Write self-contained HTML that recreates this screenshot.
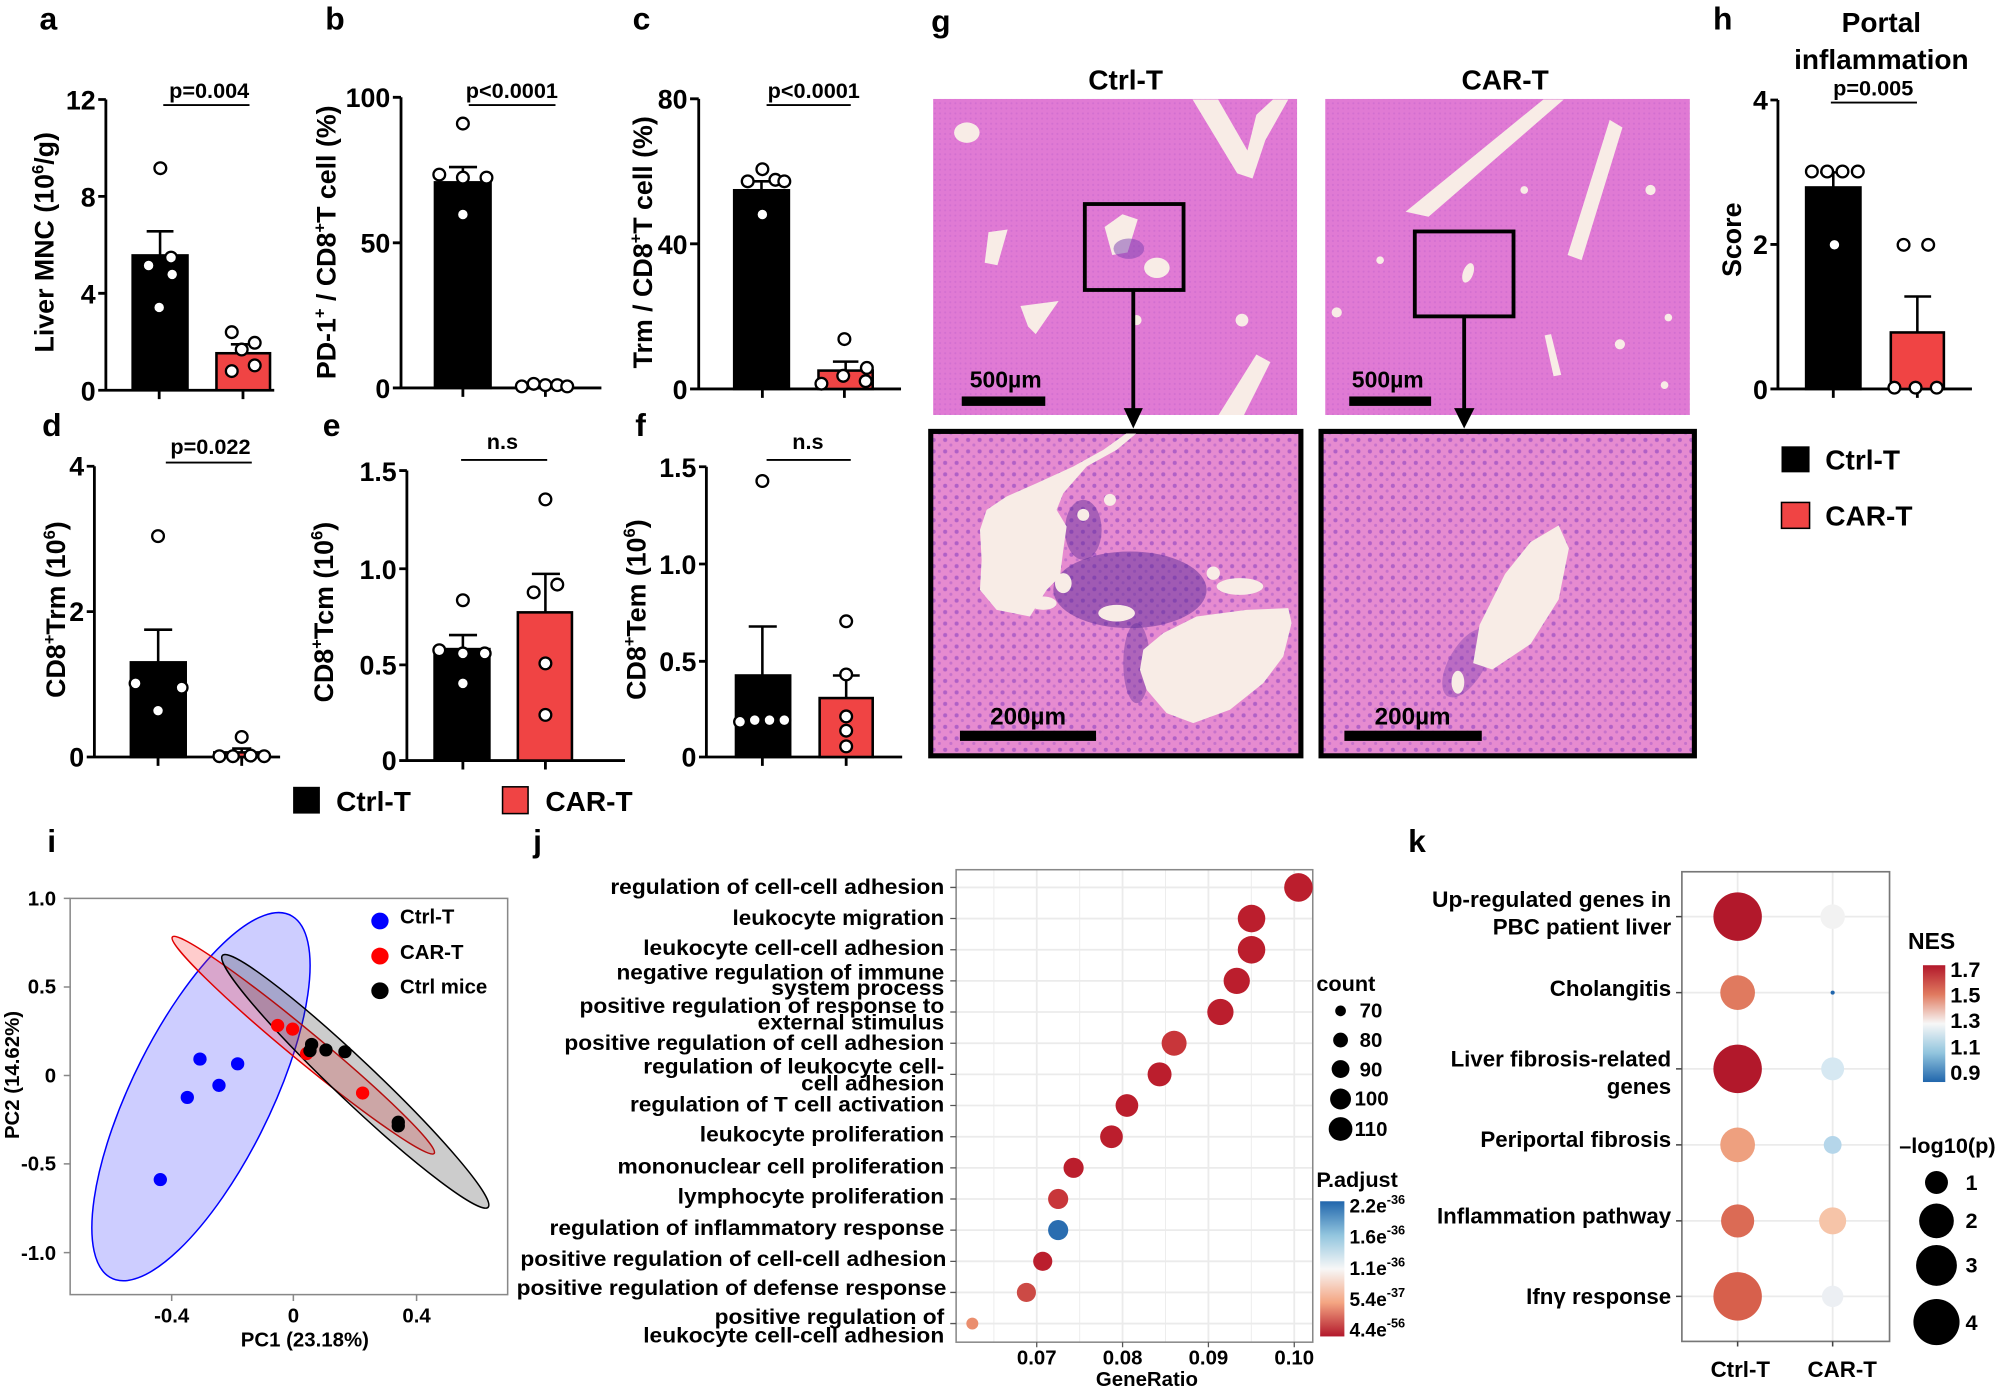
<!DOCTYPE html>
<html><head><meta charset="utf-8"><style>
html,body{margin:0;padding:0;background:#fff}
svg{display:block}
text{font-family:"Liberation Sans",Arial,sans-serif;font-weight:bold;fill:#000}
.n{font-family:"Liberation Sans Narrow","Liberation Sans",sans-serif;font-weight:bold}
</style></head><body>
<svg width="2000" height="1390" viewBox="0 0 1568 1090" preserveAspectRatio="none" xmlns="http://www.w3.org/2000/svg">
<defs>
<pattern id="nuc" width="9" height="9" patternUnits="userSpaceOnUse"><rect width="9" height="9" fill="#e68bd0"/><circle cx="3" cy="3" r="1.6" fill="#9a4ec2" opacity=".7"/><circle cx="7.5" cy="7" r="1.2" fill="#a65ac6" opacity=".5"/></pattern>
<pattern id="tis" width="4" height="4" patternUnits="userSpaceOnUse"><rect width="4" height="4" fill="#e07ad4"/><circle cx="1" cy="1" r=".8" fill="#c463cc" opacity=".5"/></pattern>
<linearGradient id="padj" x1="0" y1="0" x2="0" y2="1"><stop offset="0" stop-color="#2166ac"/><stop offset=".25" stop-color="#92c5de"/><stop offset=".5" stop-color="#f7f7f7"/><stop offset=".75" stop-color="#f4a582"/><stop offset="1" stop-color="#b2182b"/></linearGradient>
<linearGradient id="nes" x1="0" y1="0" x2="0" y2="1"><stop offset="0" stop-color="#b2182b"/><stop offset=".25" stop-color="#e07a5f"/><stop offset=".5" stop-color="#f7f7f7"/><stop offset=".75" stop-color="#92c5de"/><stop offset="1" stop-color="#2166ac"/></linearGradient>
<clipPath id="c1"><rect x="731" y="340" width="287" height="251"/></clipPath>
<clipPath id="c2"><rect x="1039" y="340" width="288" height="251"/></clipPath>
<clipPath id="c3"><rect x="731.6" y="77.6" width="285.3" height="247.8"/></clipPath>
<clipPath id="c4"><rect x="1039" y="77.6" width="285.8" height="247.8"/></clipPath>
</defs>

<g font-size="25"><text x="31" y="23">a</text><text x="255" y="23">b</text><text x="496" y="23">c</text><text x="33" y="342">d</text><text x="253" y="342">e</text><text x="498" y="342">f</text><text x="730" y="25">g</text><text x="1343" y="23">h</text><text x="37" y="668">i</text><text x="418" y="668">j</text><text x="1104" y="668">k</text></g>

<g stroke="#000" stroke-width="2.2" fill="none">
<path d="M83 78V306H215M77 78H83M77 154H83M77 230H83M77 306H83M124.8 306v7M190.5 306v7"/>
<path d="M314.4 76.3V304.2H471.5M308 76.3h6.4M308 190.4h6.4M308 304.2h6.4M362.9 304.2v7M427.6 304.2v7"/>
<path d="M547.8 77.5V305H706.4M541 77.5h6.8M541 191.2h6.8M541 305h6.8M597.7 305v7M662 305v7"/>
<path d="M74 365.6V593.6H219.6M68 365.6h6M68 479.6h6M68 593.6h6M123.9 593.6v7M189.5 593.6v7"/>
<path d="M319 369V596.4H490M313 369h6M313 446h6M313 521.4h6M313 596.4h6M362.9 596.4v7M427.6 596.4v7"/>
<path d="M553.8 366V593.6H707.3M548 366h5.8M548 442.3h5.8M548 518.6h5.8M548 593.6h5.8M597.7 593.6v7M663.4 593.6v7"/>
<path d="M1393.9 78.4V305H1546M1388 78.4h6M1388 191.7h6M1388 305h6M1437.3 305v7M1503.2 305v7"/>
</g>

<g font-size="21" text-anchor="end">
<text x="75" y="86">12</text><text x="75" y="162">8</text><text x="75" y="238">4</text><text x="75" y="314">0</text>
<text x="306" y="84">100</text><text x="306" y="198">50</text><text x="306" y="312">0</text>
<text x="539" y="85">80</text><text x="539" y="199">40</text><text x="539" y="313">0</text>
<text x="66" y="373">4</text><text x="66" y="487">2</text><text x="66" y="601">0</text>
<text x="311" y="377">1.5</text><text x="311" y="454">1.0</text><text x="311" y="529">0.5</text><text x="311" y="604">0</text>
<text x="546" y="374">1.5</text><text x="546" y="450">1.0</text><text x="546" y="526">0.5</text><text x="546" y="601">0</text>
<text x="1386" y="86">4</text><text x="1386" y="199">2</text><text x="1386" y="313">0</text>
</g>

<g stroke="#000" stroke-width="2">
<rect x="104" y="200.3" width="43" height="105.6" fill="#000"/><path d="M125.5 200V181.4M115 181.4h21"/>
<rect x="169.7" y="277" width="42" height="29" fill="#f04444"/><path d="M190.7 277v-7M181 270h20"/>
<rect x="341" y="143" width="43.6" height="161.2" fill="#000"/><path d="M362.9 143V131M352 131h22"/>
<rect x="406" y="302.4" width="43" height="1.8" fill="#f04444"/>
<rect x="575.6" y="149.2" width="42.9" height="155.8" fill="#000"/><path d="M597 149.2v-7M587 142.2h21"/>
<rect x="641.7" y="290.6" width="42.5" height="14.4" fill="#f04444"/><path d="M663 290.6v-7M653 283.6h20"/>
<rect x="102.6" y="519.4" width="43" height="74.2" fill="#000"/><path d="M124 519.4V493.8M113 493.8h22"/>
<rect x="168" y="590" width="42" height="3.6" fill="#f04444"/><path d="M189.5 590v-3M182 587h15"/>
<rect x="340.7" y="509" width="43" height="87.4" fill="#000"/><path d="M362.9 509v-11M352 498h22"/>
<rect x="406" y="480.2" width="42.4" height="116.2" fill="#f04444"/><path d="M427.6 480.2V450M417 450h22"/>
<rect x="577" y="529.7" width="42.5" height="63.9" fill="#000"/><path d="M597.7 529.7V491.3M587 491.3h22"/>
<rect x="642.6" y="547.4" width="41.6" height="46.2" fill="#f04444"/><path d="M663.4 547.4V529.7M653 529.7h21"/>
<rect x="1416" y="147" width="42.6" height="158" fill="#000"/><path d="M1437.3 147v-11.8M1427 135.2h21"/>
<rect x="1482.4" y="260.7" width="41.6" height="44.3" fill="#f04444"/><path d="M1503.2 260.7V232.5M1493 232.5h21"/>
</g>
<g fill="#fff" stroke="#000" stroke-width="1.8">
<circle cx="125.7" cy="131.9" r="4.6"/><circle cx="116.5" cy="208.2" r="4.6"/><circle cx="134.1" cy="202" r="4.6"/><circle cx="135" cy="215.2" r="4.6"/><circle cx="124.8" cy="241.1" r="4.6"/>
<circle cx="181.7" cy="260.5" r="4.6"/><circle cx="199.7" cy="268.8" r="4.6"/><circle cx="189.5" cy="274.1" r="4.6"/><circle cx="181.7" cy="291" r="4.6"/><circle cx="199.7" cy="286.5" r="4.6"/>
<circle cx="362.9" cy="96.9" r="4.6"/><circle cx="344.4" cy="136.9" r="4.6"/><circle cx="362.9" cy="139.3" r="4.6"/><circle cx="381.4" cy="139.3" r="4.6"/><circle cx="362.9" cy="168.2" r="4.6"/>
<circle cx="409.1" cy="303" r="4.6"/><circle cx="418.4" cy="301" r="4.6"/><circle cx="427.6" cy="302" r="4.6"/><circle cx="436.9" cy="302" r="4.6"/><circle cx="444.7" cy="303" r="4.6"/>
<circle cx="597.7" cy="132.7" r="4.6"/><circle cx="607.9" cy="141" r="4.6"/><circle cx="586.2" cy="142.2" r="4.6"/><circle cx="614.9" cy="142.2" r="4.6"/><circle cx="597.7" cy="168.2" r="4.6"/>
<circle cx="662" cy="265.9" r="4.6"/><circle cx="644" cy="300.9" r="4.6"/><circle cx="661.1" cy="294.7" r="4.6"/><circle cx="678.7" cy="298.9" r="4.6"/><circle cx="679.6" cy="288.5" r="4.6"/>
<circle cx="123.9" cy="420.4" r="4.6"/><circle cx="106.3" cy="535.9" r="4.6"/><circle cx="142.4" cy="539.2" r="4.6"/><circle cx="123.9" cy="557.3" r="4.6"/>
<circle cx="189.5" cy="577.9" r="4.6"/><circle cx="172" cy="593" r="4.6"/><circle cx="182.6" cy="593" r="4.6"/><circle cx="196.5" cy="592.5" r="4.6"/><circle cx="207.1" cy="593" r="4.6"/>
<circle cx="362.9" cy="470.7" r="4.6"/><circle cx="344.4" cy="509.9" r="4.6"/><circle cx="362.9" cy="512.4" r="4.6"/><circle cx="380" cy="512.4" r="4.6"/><circle cx="362.9" cy="535.9" r="4.6"/>
<circle cx="427.6" cy="391.6" r="4.6"/><circle cx="418.4" cy="464.5" r="4.6"/><circle cx="436.9" cy="458.4" r="4.6"/><circle cx="427.6" cy="520.2" r="4.6"/><circle cx="427.6" cy="560.6" r="4.6"/>
<circle cx="597.7" cy="377.2" r="4.6"/><circle cx="580.2" cy="566" r="4.6"/><circle cx="591.7" cy="564.7" r="4.6"/><circle cx="603.3" cy="564.7" r="4.6"/><circle cx="614.9" cy="564.7" r="4.6"/>
<circle cx="663.4" cy="487.2" r="4.6"/><circle cx="663.4" cy="528.9" r="4.6"/><circle cx="663.4" cy="561.8" r="4.6"/><circle cx="663.4" cy="573" r="4.6"/><circle cx="663.4" cy="585.3" r="4.6"/>
<circle cx="1420.5" cy="134.5" r="4.6"/><circle cx="1432.5" cy="134.5" r="4.6"/><circle cx="1444.5" cy="134.5" r="4.6"/><circle cx="1456.5" cy="134.5" r="4.6"/><circle cx="1438.2" cy="192" r="4.6"/>
<circle cx="1492.4" cy="192" r="4.6"/><circle cx="1511.7" cy="192" r="4.6"/><circle cx="1485.2" cy="304" r="4.6"/><circle cx="1501.8" cy="304" r="4.6"/><circle cx="1518.4" cy="304" r="4.6"/>
</g>
<g stroke="#000" stroke-width="1.5"><path d="M128 82.4H195.6M367.5 82.4H435.5M601 82.4H667M130 362.7H197.4M361.5 360.7H429M601 360.7H667M1435.4 80.4H1502.9"/></g>
<g font-size="17" text-anchor="middle">
<text x="164" y="77">p=0.004</text><text x="401.3" y="77">p&lt;0.0001</text><text x="638" y="77">p&lt;0.0001</text>
<text x="165" y="356">p=0.022</text><text x="393.9" y="352">n.s</text><text x="633.4" y="352">n.s</text>
<text x="1468.6" y="75">p=0.005</text>
</g>
<g font-size="21" text-anchor="middle">
<text transform="translate(42,190) rotate(-90)">Liver MNC (10<tspan font-size="13" dy="-8">6</tspan><tspan dy="8">/g)</tspan></text>
<text transform="translate(263,190) rotate(-90)">PD-1<tspan font-size="13" dy="-8">+</tspan><tspan dy="8"> / CD8</tspan><tspan font-size="13" dy="-8">+</tspan><tspan dy="8">T cell (%)</tspan></text>
<text transform="translate(511,190) rotate(-90)">Trm / CD8<tspan font-size="13" dy="-8">+</tspan><tspan dy="8">T cell (%)</tspan></text>
<text transform="translate(51,478) rotate(-90)">CD8<tspan font-size="13" dy="-8">+</tspan><tspan dy="8">Trm (10</tspan><tspan font-size="13" dy="-8">6</tspan><tspan dy="8">)</tspan></text>
<text transform="translate(261,480) rotate(-90)">CD8<tspan font-size="13" dy="-8">+</tspan><tspan dy="8">Tcm (10</tspan><tspan font-size="13" dy="-8">6</tspan><tspan dy="8">)</tspan></text>
<text transform="translate(506,478) rotate(-90)">CD8<tspan font-size="13" dy="-8">+</tspan><tspan dy="8">Tem (10</tspan><tspan font-size="13" dy="-8">6</tspan><tspan dy="8">)</tspan></text>
<text transform="translate(1365,188) rotate(-90)">Score</text>
</g>
<rect x="229.8" y="617" width="21" height="21" fill="#000"/><text x="263.5" y="636" font-size="22">Ctrl-T</text>
<rect x="394" y="617" width="20" height="21" fill="#f04444" stroke="#000" stroke-width="1.2"/><text x="427.6" y="636" font-size="22">CAR-T</text>
<rect x="1396.7" y="350" width="22" height="20.4" fill="#000"/><text x="1431" y="368" font-size="22">Ctrl-T</text>
<rect x="1396.7" y="394" width="22" height="20.3" fill="#f04444" stroke="#000" stroke-width="1.2"/><text x="1431" y="412" font-size="22">CAR-T</text>
<g font-size="22" text-anchor="middle"><text x="1475" y="25">Portal</text><text x="1475" y="54">inflammation</text></g>

<g font-size="22" text-anchor="middle"><text x="882.5" y="70">Ctrl-T</text><text x="1180" y="70">CAR-T</text></g>
<rect x="731.6" y="77.6" width="285.3" height="247.8" fill="url(#tis)"/>
<g clip-path="url(#c3)" fill="#f8ece6">
<ellipse cx="758" cy="104" rx="10" ry="8"/>
<polygon points="935,78 955,78 978,118 985,90 998,78 1010,78 992,110 982,140 970,136"/>
<polygon points="866,178 880,168 892,172 884,198 872,200"/><ellipse cx="907" cy="210" rx="10" ry="8"/>
<polygon points="775,182 790,180 782,208 772,206"/>
<polygon points="800,240 830,236 812,262 806,256"/>
<polygon points="985,278 996,284 975,326 955,326"/>
<circle cx="973.7" cy="251" r="5"/><circle cx="891" cy="251" r="4"/>
</g>
<g fill="#7a3fb0" opacity=".5"><ellipse cx="885" cy="195" rx="12" ry="8"/></g>
<rect x="1039" y="77.6" width="285.8" height="247.8" fill="url(#tis)"/>
<g clip-path="url(#c4)" fill="#f8ece6">
<polygon points="1210,78 1226,78 1120,170 1102,166"/>
<polygon points="1262,94 1272,100 1240,204 1229,200"/>
<ellipse cx="1151" cy="214" rx="4" ry="8" transform="rotate(20 1151 214)"/>
<polygon points="1211,263 1216,262 1224,294 1218,295"/>
<circle cx="1294" cy="149" r="4"/><circle cx="1195" cy="149" r="3"/><circle cx="1270" cy="270" r="4"/><circle cx="1308" cy="249" r="3"/><circle cx="1048" cy="245" r="4"/><circle cx="1082" cy="204" r="3"/><circle cx="1305" cy="302" r="3"/>
</g>
<g fill="none" stroke="#000" stroke-width="3"><rect x="850.5" y="160" width="77.4" height="67.4"/><rect x="1109.2" y="181.5" width="77.4" height="66.6"/></g>
<g stroke="#000" stroke-width="3"><path d="M888.5 227.4V322M1147.9 248.1V322"/></g>
<polygon points="881,320 896,320 888.5,336" fill="#000"/><polygon points="1140,320 1156,320 1147.9,336" fill="#000"/>
<rect x="754" y="310.9" width="65.5" height="7.4" fill="#000"/><rect x="1057.8" y="310.9" width="64.2" height="7.4" fill="#000"/>
<g font-size="18" text-anchor="middle"><text x="788.5" y="304">500µm</text><text x="1088" y="304">500µm</text></g>

<rect x="729.7" y="338.3" width="290.2" height="254.4" fill="url(#nuc)" stroke="#000" stroke-width="4"/>
<g clip-path="url(#c1)"><g transform="translate(729.1,337.1) scale(0.2613)">
<ellipse cx="600" cy="480" rx="230" ry="115" fill="#5a2a98" opacity=".5"/>
<ellipse cx="620" cy="700" rx="40" ry="120" fill="#5a2a98" opacity=".4"/>
<ellipse cx="460" cy="300" rx="55" ry="90" fill="#5a2a98" opacity=".45"/>
<g fill="#f8ece6">
<polygon points="620,10 560,60 470,110 400,190 380,240 410,290 400,360 390,440 350,480 300,560 200,540 150,480 155,390 150,300 170,240 230,200 320,160 430,110 520,60 590,10"/>
<polygon points="640,660 700,610 800,560 950,540 1075,535 1085,580 1060,680 1000,760 900,840 790,880 710,850 650,780 630,720"/>
<ellipse cx="560" cy="550" rx="55" ry="25"/><ellipse cx="930" cy="470" rx="70" ry="25"/><circle cx="850" cy="430" r="20"/><circle cx="460" cy="255" r="18"/><circle cx="540" cy="210" r="18"/><ellipse cx="400" cy="460" rx="25" ry="30"/><ellipse cx="340" cy="520" rx="40" ry="20"/>
</g></g></g>
<rect x="752.6" y="573" width="106.7" height="8" fill="#000"/><text x="806" y="568" font-size="19" text-anchor="middle">200µm</text>

<rect x="1035.7" y="338.3" width="292.7" height="254.4" fill="url(#nuc)" stroke="#000" stroke-width="4"/>
<g clip-path="url(#c2)">
<ellipse cx="1150" cy="520" rx="14" ry="30" fill="#7a3fb0" opacity=".4" transform="rotate(30 1150 520)"/>
<polygon points="1222,412 1230,430 1222,470 1200,505 1170,525 1155,520 1160,490 1180,450 1200,425" fill="#f8ece6"/>
<ellipse cx="1143" cy="535" rx="5" ry="9" fill="#f8ece6"/>
</g>
<rect x="1054" y="573" width="107.7" height="8" fill="#000"/><text x="1107.5" y="568" font-size="19" text-anchor="middle">200µm</text>

<rect x="55" y="704.5" width="343" height="310.7" fill="#fff" stroke="#888" stroke-width="1.2"/>
<g transform="translate(0,642.9) scale(0.2613,0.2864)">
<ellipse cx="603" cy="758" rx="565" ry="205" transform="rotate(-61 603 758)" fill="#6666ff" fill-opacity=".33" stroke="#0000ff" stroke-width="1.5" vector-effect="non-scaling-stroke"/>
<ellipse cx="910" cy="617" rx="492" ry="42" transform="rotate(37 910 617)" fill="#ff3333" fill-opacity=".25" stroke="#e00000" stroke-width="1.5" vector-effect="non-scaling-stroke"/>
<ellipse cx="1066" cy="716" rx="527" ry="58" transform="rotate(40.8 1066 716)" fill="#333" fill-opacity=".25" stroke="#000" stroke-width="1.5" vector-effect="non-scaling-stroke"/>
<g fill="#0000ff"><ellipse cx="600" cy="655" rx="20" ry="18"/><ellipse cx="713" cy="668" rx="20" ry="18"/><ellipse cx="657" cy="727" rx="20" ry="18"/><ellipse cx="562" cy="760" rx="20" ry="18"/><ellipse cx="481" cy="985" rx="20" ry="18"/></g>
<g fill="#ff0000"><ellipse cx="833" cy="563" rx="20" ry="18"/><ellipse cx="878" cy="573" rx="20" ry="18"/><ellipse cx="920" cy="640" rx="20" ry="18"/><ellipse cx="1088" cy="748" rx="20" ry="18"/></g>
<g fill="#000"><ellipse cx="935" cy="615" rx="20" ry="18"/><ellipse cx="930" cy="632" rx="20" ry="18"/><ellipse cx="978" cy="630" rx="20" ry="18"/><ellipse cx="1035" cy="635" rx="20" ry="18"/><ellipse cx="1195" cy="828" rx="20" ry="18"/><ellipse cx="1195" cy="838" rx="20" ry="18"/></g>
<ellipse cx="1140" cy="277" rx="26" ry="23" fill="#0000ff"/><ellipse cx="1140" cy="373" rx="26" ry="23" fill="#ff0000"/><ellipse cx="1140" cy="468" rx="26" ry="23" fill="#000"/>
</g>
<g font-size="16"><text x="313.6" y="724">Ctrl-T</text><text x="313.6" y="752">CAR-T</text><text x="313.6" y="779">Ctrl mice</text></g>
<g stroke="#888" stroke-width="1.2"><path d="M50 704.5h5M50 774h5M50 843.4h5M50 912.7h5M50 982.3h5M134.6 1015.2v5M230 1015.2v5M326.6 1015.2v5"/></g>
<g font-size="16" text-anchor="end"><text x="44" y="710">1.0</text><text x="44" y="779">0.5</text><text x="44" y="849">0</text><text x="44" y="918">-0.5</text><text x="44" y="988">-1.0</text></g>
<g font-size="16" text-anchor="middle"><text x="134.6" y="1037">-0.4</text><text x="230" y="1037">0</text><text x="326.6" y="1037">0.4</text><text x="239" y="1056">PC1 (23.18%)</text>
<text transform="translate(15,843) rotate(-90)">PC2 (14.62%)</text></g>

<rect x="749.6" y="682" width="279.6" height="370.5" fill="#fff"/>
<g stroke="#ebebeb" stroke-width="0.7"><path d="M779.2 682V1052.5M846.5 682V1052.5M913.8 682V1052.5M981 682V1052.5"/></g>
<g stroke="#ebebeb" stroke-width="1.4"><path d="M812.8 682V1052.5M880.1 682V1052.5M947.4 682V1052.5M1014.7 682V1052.5
M749.6 695.9H1029.2M749.6 720.3H1029.2M749.6 744.8H1029.2M749.6 769.2H1029.2M749.6 793.6H1029.2M749.6 818.1H1029.2M749.6 842.5H1029.2M749.6 866.9H1029.2M749.6 891.4H1029.2M749.6 915.8H1029.2M749.6 940.2H1029.2M749.6 964.6H1029.2M749.6 989.1H1029.2M749.6 1013.5H1029.2M749.6 1037.9H1029.2"/></g>
<rect x="749.6" y="682" width="279.6" height="370.5" fill="none" stroke="#888" stroke-width="1.2"/>
<g stroke="#555" stroke-width="1"><path d="M745 695.9h4.6M745 720.3h4.6M745 744.8h4.6M745 769.2h4.6M745 793.6h4.6M745 818.1h4.6M745 842.5h4.6M745 866.9h4.6M745 891.4h4.6M745 915.8h4.6M745 940.2h4.6M745 964.6h4.6M745 989.1h4.6M745 1013.5h4.6M745 1037.9h4.6M812.8 1052.5v4M880.1 1052.5v4M947.4 1052.5v4M1014.7 1052.5v4"/></g>
<g fill="#bb1e2d">
<circle cx="1018" cy="695.9" r="11.2"/><circle cx="981.2" cy="720.3" r="10.8"/><circle cx="981.2" cy="744.8" r="10.8"/><circle cx="969.6" cy="769.2" r="10.3"/><circle cx="956.8" cy="793.6" r="10.3"/>
<circle cx="920.5" cy="818.1" r="9.8" fill="#c8363a"/><circle cx="909.1" cy="842.5" r="9.4"/><circle cx="883.5" cy="866.9" r="8.9"/><circle cx="871.4" cy="891.4" r="8.9"/><circle cx="841.7" cy="915.8" r="7.9"/>
<circle cx="829.6" cy="940.2" r="7.9" fill="#c8363a"/><circle cx="829.6" cy="964.6" r="7.9" fill="#2a6db0"/><circle cx="817.5" cy="989.1" r="7.5"/><circle cx="804.7" cy="1013.5" r="7.5" fill="#cc4a45"/><circle cx="762.3" cy="1037.9" r="4.7" fill="#ea8e6e"/>
</g>
<g class="n" font-size="16.5" text-anchor="end" dominant-baseline="central">
<text class="n" x="740.3" y="695.9" textLength="261.8" lengthAdjust="spacingAndGlyphs">regulation of cell-cell adhesion</text>
<text class="n" x="740.3" y="720.3" textLength="166" lengthAdjust="spacingAndGlyphs">leukocyte migration</text>
<text class="n" x="740.3" y="743.7" textLength="236" lengthAdjust="spacingAndGlyphs">leukocyte cell-cell adhesion</text>
<text class="n" x="740.3" y="763.1" textLength="257" lengthAdjust="spacingAndGlyphs">negative regulation of immune</text>
<text class="n" x="740.3" y="775.2" textLength="135.6" lengthAdjust="spacingAndGlyphs">system process</text>
<text class="n" x="740.3" y="789.3" textLength="286" lengthAdjust="spacingAndGlyphs">positive regulation of response to</text>
<text class="n" x="740.3" y="802.3" textLength="146.3" lengthAdjust="spacingAndGlyphs">external stimulus</text>
<text class="n" x="740.3" y="818.1" textLength="297.8" lengthAdjust="spacingAndGlyphs">positive regulation of cell adhesion</text>
<text class="n" x="740.3" y="836.9" textLength="236" lengthAdjust="spacingAndGlyphs">regulation of leukocyte cell-</text>
<text class="n" x="740.3" y="849.9" textLength="112.2" lengthAdjust="spacingAndGlyphs">cell adhesion</text>
<text class="n" x="740.3" y="866.5" textLength="246.4" lengthAdjust="spacingAndGlyphs">regulation of T cell activation</text>
<text class="n" x="740.3" y="890.2" textLength="191.7" lengthAdjust="spacingAndGlyphs">leukocyte proliferation</text>
<text class="n" x="740.3" y="915.1" textLength="256.2" lengthAdjust="spacingAndGlyphs">mononuclear cell proliferation</text>
<text class="n" x="740.3" y="938.6" textLength="209" lengthAdjust="spacingAndGlyphs">lymphocyte proliferation</text>
<text class="n" x="740.3" y="963.5" textLength="309.5" lengthAdjust="spacingAndGlyphs">regulation of inflammatory response</text>
<text class="n" x="742" y="987.5" textLength="334" lengthAdjust="spacingAndGlyphs">positive regulation of cell-cell adhesion</text>
<text class="n" x="742" y="1010.5" textLength="337" lengthAdjust="spacingAndGlyphs">positive regulation of defense response</text>
<text class="n" x="740.3" y="1033.1" textLength="180" lengthAdjust="spacingAndGlyphs">positive regulation of</text>
<text class="n" x="740.3" y="1047.8" textLength="236" lengthAdjust="spacingAndGlyphs">leukocyte cell-cell adhesion</text>
</g>
<g class="n" font-size="16" text-anchor="middle"><text class="n" x="812.8" y="1070">0.07</text><text class="n" x="880.1" y="1070">0.08</text><text class="n" x="947.4" y="1070">0.09</text><text class="n" x="1014.7" y="1070">0.10</text><text class="n" x="899.2" y="1087">GeneRatio</text></g>
<text class="n" x="1032" y="777" font-size="17">count</text>
<g fill="#000"><circle cx="1051" cy="792.7" r="4.2"/><circle cx="1051" cy="815.6" r="5.8"/><circle cx="1051" cy="838.3" r="7"/><circle cx="1051" cy="861.8" r="8.2"/><circle cx="1051" cy="885.3" r="9.3"/></g>
<g class="n" font-size="16"><text class="n" x="1066" y="798">70</text><text class="n" x="1066" y="821">80</text><text class="n" x="1066" y="844">90</text><text class="n" x="1062" y="867">100</text><text class="n" x="1062" y="891">110</text></g>
<text class="n" x="1032" y="931" font-size="17">P.adjust</text>
<rect x="1035" y="942" width="19" height="106" fill="url(#padj)"/>
<g class="n" font-size="15"><text class="n" x="1058" y="951">2.2e<tspan font-size="10" dy="-7">-36</tspan></text><text class="n" x="1058" y="975">1.6e<tspan font-size="10" dy="-7">-36</tspan></text><text class="n" x="1058" y="1000">1.1e<tspan font-size="10" dy="-7">-36</tspan></text><text class="n" x="1058" y="1024">5.4e<tspan font-size="10" dy="-7">-37</tspan></text><text class="n" x="1058" y="1048">4.4e<tspan font-size="10" dy="-7">-56</tspan></text></g>

<rect x="1318.6" y="683.6" width="162.8" height="368.3" fill="#fff"/>
<g stroke="#ebebeb" stroke-width="1.4"><path d="M1362.3 683.6V1051.9M1436.8 683.6V1051.9M1318.6 718.8H1481.4M1318.6 778.4H1481.4M1318.6 838.2H1481.4M1318.6 897.8H1481.4M1318.6 957.4H1481.4M1318.6 1016.6H1481.4"/></g>
<rect x="1318.6" y="683.6" width="162.8" height="368.3" fill="none" stroke="#777" stroke-width="1.3"/>
<g stroke="#444" stroke-width="1.2"><path d="M1314 718.8h4.6M1314 778.4h4.6M1314 838.2h4.6M1314 897.8h4.6M1314 957.4h4.6M1314 1016.6h4.6M1362.3 1051.9v4M1436.8 1051.9v4"/></g>
<circle cx="1362.3" cy="718.8" r="19" fill="#b2182b"/><circle cx="1362.3" cy="778.4" r="13.6" fill="#e07a5f"/><circle cx="1362.3" cy="838.2" r="19" fill="#b2182b"/><circle cx="1362.3" cy="897.8" r="13.6" fill="#eea07f"/><circle cx="1362.3" cy="957.4" r="13" fill="#db6b55"/><circle cx="1362.3" cy="1016.6" r="19" fill="#d7604c"/>
<circle cx="1436.8" cy="718.8" r="9.6" fill="#f2f2f2"/><circle cx="1436.8" cy="778.4" r="1.6" fill="#2166ac"/><circle cx="1436.8" cy="838.2" r="9" fill="#d6e8f2"/><circle cx="1436.8" cy="897.8" r="7" fill="#b5d6ea"/><circle cx="1436.8" cy="957.4" r="10.6" fill="#f6c4a8"/><circle cx="1436.8" cy="1016.6" r="8.4" fill="#eceff3"/>
<g font-size="17.5" text-anchor="end" dominant-baseline="central">
<text x="1310.2" y="705.3" textLength="187.5" lengthAdjust="spacingAndGlyphs">Up-regulated genes in</text>
<text x="1310.2" y="726.8">PBC patient liver</text>
<text x="1310.2" y="775.2">Cholangitis</text>
<text x="1310.2" y="830.5">Liver fibrosis-related</text>
<text x="1310.2" y="852">genes</text>
<text x="1310.2" y="893.5">Periportal  fibrosis</text>
<text x="1310.2" y="953.6">Inflammation  pathway</text>
<text x="1310.2" y="1016.6">Ifnγ response</text>
</g>
<g font-size="17.5" text-anchor="middle"><text x="1364.4" y="1080">Ctrl-T</text><text x="1444.3" y="1080">CAR-T</text></g>
<text x="1495.9" y="744" font-size="18">NES</text>
<rect x="1507.6" y="756.9" width="17.5" height="91.6" fill="url(#nes)"/>
<g font-size="17"><text x="1529" y="766">1.7</text><text x="1529" y="786">1.5</text><text x="1529" y="806">1.3</text><text x="1529" y="827">1.1</text><text x="1529" y="847">0.9</text></g>
<text x="1489" y="904" font-size="17">–log10(p)</text>
<g fill="#000"><circle cx="1518.2" cy="927.3" r="9"/><circle cx="1518.2" cy="957.4" r="13.6"/><circle cx="1518.2" cy="992.3" r="16"/><circle cx="1518.2" cy="1036.7" r="18.1"/></g>
<g font-size="17"><text x="1541" y="933">1</text><text x="1541" y="963">2</text><text x="1541" y="998">3</text><text x="1541" y="1043">4</text></g>
</svg>
</body></html>
